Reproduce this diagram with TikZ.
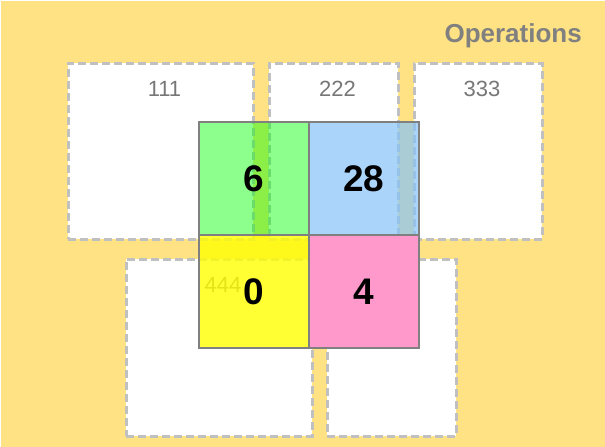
\documentclass[tikz,border=0pt]{standalone}
\usepackage{fontspec}
\setmainfont{Liberation Sans}
\usetikzlibrary{positioning}
\definecolor{bgyellow}{RGB}{254,226,131}
\definecolor{dashgray}{RGB}{192,192,192}
\definecolor{labelgray}{RGB}{119,119,119}
\definecolor{gridgray}{RGB}{128,128,128}
\definecolor{cellgreen}{RGB}{0,255,0}
\definecolor{cellblue}{RGB}{135,195,249}
\definecolor{cellyellow}{RGB}{255,255,0}
\definecolor{cellpink}{RGB}{255,153,204}

\begin{document}
\begin{tikzpicture}[
                    x=1pt, y=-1pt,
                    opbox/.style={draw=dashgray, fill=white, line width=3pt, dash pattern=on 8pt off 4pt, inner sep=0pt, outer sep=0pt, minimum height=176pt},
                    boxlabel/.style={text=labelgray, font=\fontsize{22}{22}\selectfont, inner sep=0pt},
                    cellbox/.style={draw=gridgray, line width=1.5pt, inner sep=0pt, outer sep=0pt, minimum width=110pt, minimum height=113pt, text=black, text opacity=1, font=\bfseries\fontsize{37}{37}\selectfont}
                ]
                    % Background
                    \useasboundingbox (0,0) rectangle (605,447);
                    \fill[bgyellow] (1,1) rectangle (605,447);
                    \node[anchor=base east, text=gridgray, font=\bfseries\fontsize{26}{26}\selectfont, inner sep=0pt] (title) at (582,42) {Operations};

                    % Operation boxes
                    \node[opbox, minimum width=185pt, anchor=north west] (b1) at (68,63) {};
                    \node[opbox, minimum width=129pt, right=16pt of b1] (b2) {};
                    \node[opbox, minimum width=128pt, right=16pt of b2] (b3) {};
                    \node[opbox, minimum width=186pt, minimum height=177pt, anchor=north west] (b4) at (126,259) {};
                    \node[opbox, minimum width=129pt, minimum height=177pt, right=15pt of b4] (b5) {};

                    \node[boxlabel] (l1) at ([xshift=4pt, yshift=-26pt]b1.north) {111};
                    \node[boxlabel] (l2) at ([xshift=4pt, yshift=-26pt]b2.north) {222};
                    \node[boxlabel] (l3) at ([xshift=4pt, yshift=-26pt]b3.north) {333};
                    \node[boxlabel] (l4) at ([xshift=4pt, yshift=-26pt]b4.north) {444};

                    % Result cells
                    \node[cellbox, fill=cellgreen, fill opacity=0.45, anchor=north west] (six) at (199,122) {6};
                    \node[cellbox, fill=cellblue, fill opacity=0.7, right=0pt of six] (twentyeight) {28};
                    \node[cellbox, fill=cellyellow, fill opacity=0.8, below=0pt of six] (zero) {0};
                    \node[cellbox, fill=cellpink, right=0pt of zero] (four) {4};
                \end{tikzpicture}
\end{document}
